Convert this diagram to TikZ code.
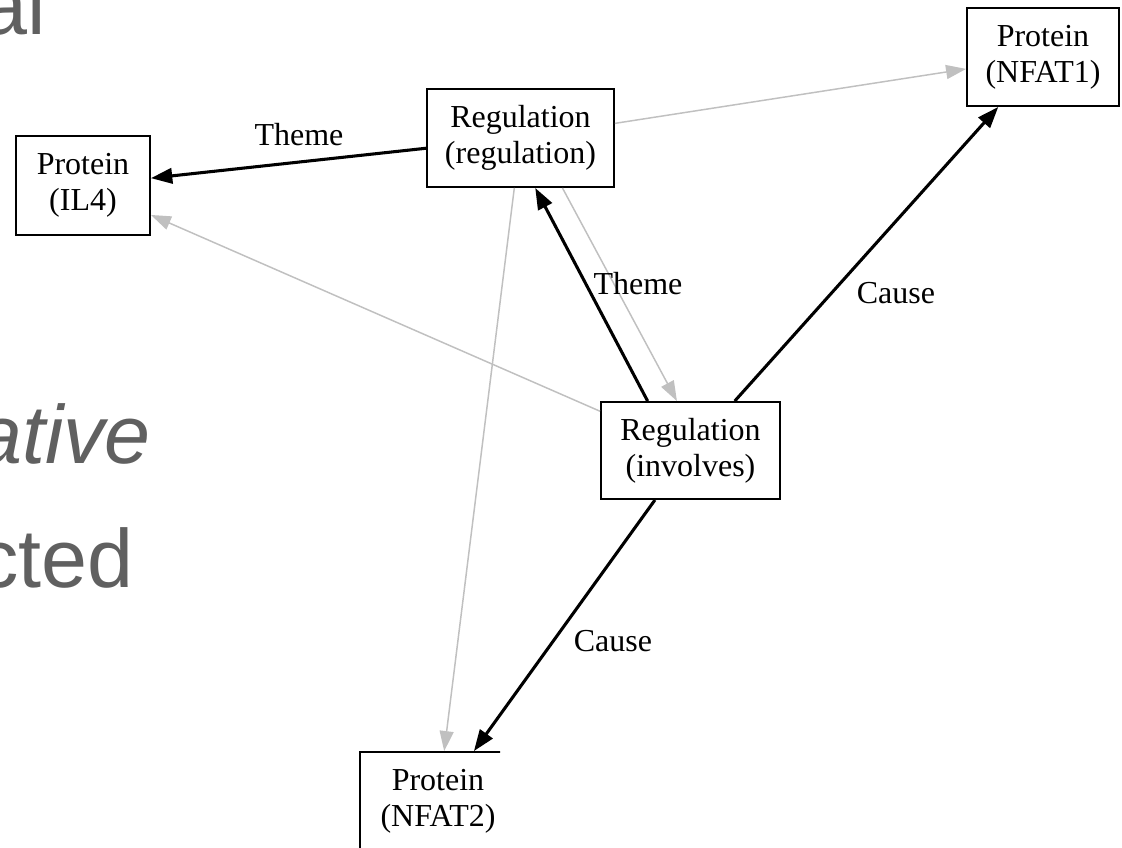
\documentclass[tikz,border=0pt]{standalone}
\usepackage{fontspec}
\setmainfont{Liberation Serif}
\newfontfamily\slidefont{Liberation Sans}
\usetikzlibrary{arrows.meta,calc}
\definecolor{slidegray}{HTML}{606060}
\definecolor{lightedge}{HTML}{C0C0C0}

\begin{document}
\begin{tikzpicture}[x=0.75pt,y=-0.75pt,
  box/.style={draw=black, line width=1.4pt, fill=white, inner sep=0pt,
    align=center, font=\fontsize{24}{27}\selectfont},
  elabel/.style={inner sep=0pt, font=\fontsize{24}{27}\selectfont},
  slidetext/.style={anchor=base east, inner sep=0pt, text=slidegray,
    font=\slidefont\fontsize{62}{62}\selectfont},
  heavy/.style={draw=black, line width=2.3pt,
    -{Triangle[length=16pt,width=11.5pt]}},
  light/.style={draw=lightedge, line width=1.1pt,
    -{Triangle[length=15pt,width=10.5pt]}}]

\useasboundingbox (0,0) rectangle (1122,847);
\clip (0,0) rectangle (1122,847);
\fill[white] (0,0) rectangle (1122,847);

% fragments of the slide text behind the graph
\node[slidetext] (s1) at (46,34) {al};
\node[slidetext, font=\slidefont\itshape\fontsize{62}{62}\selectfont] (s2) at (151,463) {ative};
\node[slidetext] (s3) at (134,587) {cted};

% event and protein nodes
\node[box, minimum width=100.5pt, minimum height=74.25pt] (il4) at (83,185.5) {Protein\\(IL4)};
\node[box, minimum width=140.25pt, minimum height=73.5pt] (rr) at (520.5,138) {Regulation\\(regulation)};
\node[box, minimum width=114pt, minimum height=73.5pt] (nf1) at (1043,57) {Protein\\(NFAT1)};
\node[box, minimum width=134.25pt, minimum height=72.75pt] (inv) at (690.5,450.5) {Regulation\\(involves)};
\begin{scope}
  \clip (0,0) rectangle (500,847);
  \node[box, minimum width=117pt, minimum height=73.5pt] (nf2) at (438,801) {Protein\\(NFAT2)};
\end{scope}

% light (alternative) edges
\draw[light] (rr) -- (nf1);
\draw[light] (inv) -- (il4);
\draw[light] (rr) -- (nf2);
\draw[light] ($(rr.south west)!0.722!(rr.south east)$) -- ($(inv.north west)!0.425!(inv.north east)$);

% heavy (argument) edges
\draw[heavy] (rr) -- (il4);
\draw[heavy] ($(inv.north west)!0.263!(inv.north east)$) -- ($(rr.south west)!0.578!(rr.south east)$);
\draw[heavy] (inv) -- (nf1);
\draw[heavy] (inv) -- (nf2);

% edge labels
\node[elabel] (t1) at (299,135) {Theme};
\node[elabel] (t2) at (638,284) {Theme};
\node[elabel] (c1) at (896,293) {Cause};
\node[elabel] (c2) at (613,641) {Cause};
\end{tikzpicture}
\end{document}
